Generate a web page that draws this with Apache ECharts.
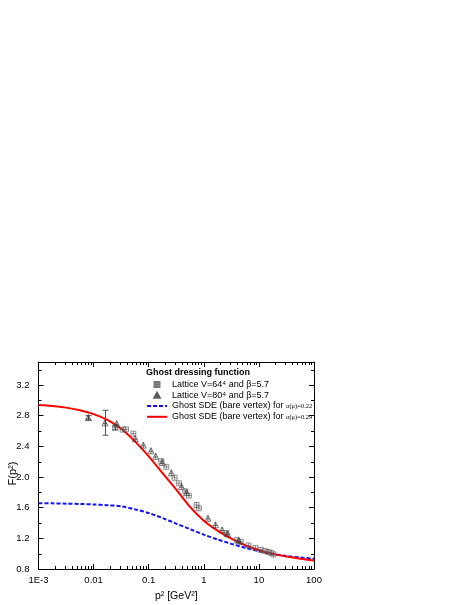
<!DOCTYPE html>
<html>
<head>
<meta charset="utf-8">
<script src="https://cdn.jsdelivr.net/npm/echarts@6/dist/echarts.min.js"></script>
<style>
html, body { margin: 0; padding: 0; background: #fff; }
#box { width: 468px; height: 605px; }
</style>
</head>
<body>
<div id="box"></div>
<script>
// lattice V=64^4 (squares)
const sqX = [0.0245, 0.0337, 0.0387, 0.0526, 0.169, 0.209, 0.295, 0.353, 0.461, 0.536, 0.738, 0.814,
  2.58, 4.03, 4.68, 6.46, 8.64, 10.8, 12.9, 14.9, 16.8, 18.4];
const sqY = [2.644, 2.618, 2.622, 2.566, 2.207, 2.133, 1.99, 1.917, 1.813, 1.757, 1.635, 1.592,
  1.268, 1.177, 1.155, 1.107, 1.073, 1.051, 1.034, 1.021, 1.008, 0.99];
// lattice V=80^4 (triangles)
const triX = [0.008, 0.0161, 0.0262, 0.0571, 0.080, 0.110, 0.134, 0.176, 0.257, 0.395, 0.488,
  1.19, 1.63, 2.15, 2.70, 4.31];
const triY = [2.774, 2.705, 2.696, 2.50, 2.416, 2.342, 2.27, 2.19, 2.055, 1.874, 1.796,
  1.462, 1.376, 1.31, 1.259, 1.168];
// error bars: x, low, high
const errBars = [[0.008, 2.745, 2.80], [0.0161, 2.545, 2.87], [0.0245, 2.615, 2.675]];

// curve abscissae, quarter decades from 1E-3 to 100
const curveX = [0.001, 0.00178, 0.00316, 0.00562, 0.01, 0.0178, 0.0316, 0.0562, 0.1, 0.178, 0.316,
  0.562, 1, 1.78, 3.16, 5.62, 10, 17.8, 31.6, 56.2, 100];
// Ghost SDE, alpha(mu)=0.29
const redY = [2.94, 2.927, 2.905, 2.87, 2.82, 2.745, 2.63, 2.465, 2.27, 2.05, 1.835,
  1.61, 1.43, 1.30, 1.195, 1.11, 1.045, 0.997, 0.963, 0.935, 0.912];
// Ghost SDE, alpha(mu)=0.22
const blueY = [1.658, 1.656, 1.652, 1.648, 1.642, 1.632, 1.618, 1.578, 1.53, 1.465, 1.392,
  1.32, 1.248, 1.185, 1.128, 1.077, 1.032, 0.997, 0.97, 0.95, 0.934];

const xTickLabels = ["1E-3", "0.01", "0.1", "1", "10", "100"];

const font = "Liberation Sans";
const sqSymbol = "path://M0,0L10,0L10,10L0,10Z M5,0L5,10 M0,5L10,5";
const triSymbol = "path://M5,0L10,9L0,9Z M5,0L5,9 M1.5,5.5L8.5,5.5";

const pair = (xs, ys) => xs.map((x, i) => [x, ys[i]]);

// log minor ticks and 0.2 y ticks on all four sides
function frameTicks(params, api) {
  const lb = api.coord([0.001, 0.8]);
  const rt = api.coord([100, 3.5]);
  const kids = [];
  const seg = (x1, y1, x2, y2) => kids.push({
    type: "line", shape: { x1: x1, y1: y1, x2: x2, y2: y2 },
    style: { stroke: "#000", lineWidth: 1 }
  });
  for (let e = -3; e < 2; e++) {
    for (let k = 2; k < 10; k++) {
      const px = Math.round(api.coord([k * Math.pow(10, e), 1])[0]) + 0.5;
      seg(px, lb[1], px, lb[1] - 3);
      seg(px, rt[1], px, rt[1] + 3);
    }
  }
  for (let v = 1.0; v < 3.5; v += 0.4) {
    const py = Math.round(api.coord([1, v])[1]) + 0.5;
    seg(lb[0], py, lb[0] + 3, py);
    seg(rt[0], py, rt[0] - 3, py);
  }
  return { type: "group", children: kids };
}

function errorBar(params, api) {
  const x = api.value(0);
  const lo = api.coord([x, api.value(1)]);
  const hi = api.coord([x, api.value(2)]);
  const style = { stroke: "#555", lineWidth: 1 };
  const px = Math.round(lo[0]) + 0.5;
  return {
    type: "group",
    children: [
      { type: "line", shape: { x1: px, y1: lo[1], x2: px, y2: hi[1] }, style: style },
      { type: "line", shape: { x1: px - 3, y1: lo[1], x2: px + 3, y2: lo[1] }, style: style },
      { type: "line", shape: { x1: px - 3, y1: hi[1], x2: px + 3, y2: hi[1] }, style: style }
    ]
  };
}

let chart = echarts.init(document.getElementById("box"));

const xBase = {
  type: "log", logBase: 10, min: 0.001, max: 100,
  axisLine: { lineStyle: { color: "#000", width: 1 } },
  axisTick: { inside: true, length: 5, lineStyle: { color: "#000" } },
  splitLine: { show: false }
};
const yBase = {
  type: "value", min: 0.8, max: 3.5, interval: 0.4,
  axisLine: { show: true, lineStyle: { color: "#000", width: 1 } },
  axisTick: { inside: true, length: 5, lineStyle: { color: "#000" } },
  splitLine: { show: false }
};

let option = {
  animation: false,
  backgroundColor: "#fff",
  title: {
    text: "Ghost dressing function",
    left: 146, top: 368, padding: 0,
    textStyle: { fontFamily: font, fontSize: 9, fontWeight: "bold", color: "#000" }
  },
  legend: {
    orient: "vertical",
    left: 146, top: 379,
    itemWidth: 20, itemHeight: 5, itemGap: 0,
    padding: 0,
    textStyle: {
      fontFamily: font, fontSize: 9, color: "#000", lineHeight: 10.8,
      rich: {
        a: { fontFamily: font, fontSize: 9, color: "#000", lineHeight: 10.8 },
        g: { fontFamily: "Liberation Serif", fontSize: 6.5, color: "#000", lineHeight: 10.8 }
      }
    },
    formatter: function (name) {
      const i = name.indexOf("α");
      if (i < 0) return name;
      return "{a|" + name.slice(0, i) + "}{g|" + name.slice(i) + "}";
    },
    data: [
      "Lattice V=64⁴ and β=5.7",
      "Lattice V=80⁴ and β=5.7",
      { name: "Ghost SDE (bare vertex) for α(μ)=0.22", itemStyle: { opacity: 0 } },
      { name: "Ghost SDE (bare vertex) for α(μ)=0.29", itemStyle: { opacity: 0 } }
    ]
  },
  grid: { left: 38.5, right: 154, top: 362, bottom: 36, outerBoundsMode: "none", containLabel: false },
  xAxis: [
    Object.assign({}, xBase, {
      position: "bottom",
      name: "p² [GeV²]", nameLocation: "middle", nameGap: 22, nameMoveOverlap: false,
      nameTextStyle: { fontFamily: font, fontSize: 10.5, color: "#000" },
      axisLabel: {
        fontFamily: font, fontSize: 9.5, color: "#000", margin: 6,
        formatter: v => xTickLabels[Math.round(Math.log10(v)) + 3]
      }
    }),
    Object.assign({}, xBase, { position: "top", axisLabel: { show: false } })
  ],
  yAxis: [
    Object.assign({}, yBase, {
      position: "left",
      name: "F(p²)", nameLocation: "middle", nameGap: 20, nameRotate: 90, nameMoveOverlap: false,
      nameTextStyle: { fontFamily: font, fontSize: 11, color: "#000", padding: [0, 16, 0, 0] },
      axisLabel: {
        fontFamily: font, fontSize: 9.5, color: "#000", margin: 9,
        showMaxLabel: false,
        formatter: v => v.toFixed(1)
      }
    }),
    Object.assign({}, yBase, { position: "right", axisLabel: { show: false } })
  ],
  series: [
    {
      name: "frame", type: "custom", renderItem: frameTicks,
      data: [[1, 1]], silent: true, clip: false, z: 1
    },
    {
      name: "Ghost SDE (bare vertex) for α(μ)=0.22", type: "line",
      data: pair(curveX, blueY), smooth: 0.3, symbol: "none",
      lineStyle: { color: "#1010ff", width: 2, type: [4, 2] },
      itemStyle: { color: "#1010ff" }, z: 3
    },
    {
      name: "Ghost SDE (bare vertex) for α(μ)=0.29", type: "line",
      data: pair(curveX, redY), smooth: 0.3, symbol: "none",
      lineStyle: { color: "#ff0000", width: 2 },
      itemStyle: { color: "#ff0000" }, z: 3
    },
    {
      name: "errors", type: "custom", renderItem: errorBar,
      data: errBars, silent: true, z: 4
    },
    {
      name: "Lattice V=64⁴ and β=5.7", type: "scatter",
      data: pair(sqX, sqY), symbol: sqSymbol, symbolSize: 5,
      itemStyle: { color: "rgba(0,0,0,0)", borderColor: "#555", borderWidth: 0.8 }, z: 5
    },
    {
      name: "Lattice V=80⁴ and β=5.7", type: "scatter",
      data: pair(triX, triY), symbol: triSymbol, symbolSize: 6,
      itemStyle: { color: "rgba(0,0,0,0)", borderColor: "#333", borderWidth: 0.8 }, z: 5
    }
  ]
};

chart.setOption(option);
</script>
</body>
</html>
